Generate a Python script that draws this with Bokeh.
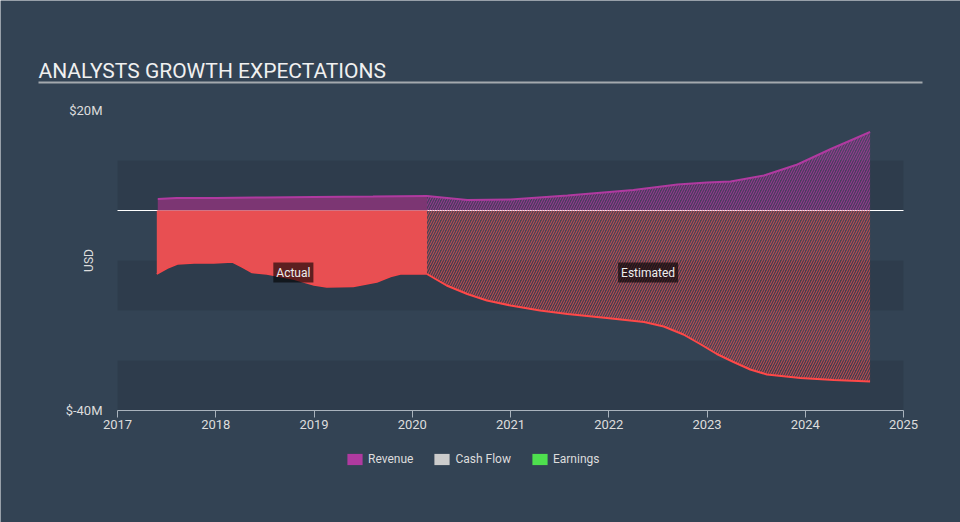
import numpy as np
from bokeh.plotting import figure
from bokeh.models import (Range1d, FixedTicker, BoxAnnotation, Label,
                          Legend, LegendItem, ColumnDataSource)
from bokeh.embed import file_html
from bokeh.resources import INLINE

# ---------------- data (USD millions, decimal years) ----------------
rev_act_x = [2017.41, 2017.6, 2018.0, 2018.5, 2019.0, 2019.6, 2020.15]
rev_act_y = [2.3, 2.5, 2.5, 2.6, 2.7, 2.8, 2.9]

rev_est_x = [2020.15, 2020.56, 2021.0, 2021.58, 2022.25, 2022.7, 2023.0,
             2023.24, 2023.58, 2023.92, 2024.26, 2024.66]
rev_est_y = [2.9, 2.1, 2.2, 3.0, 4.1, 5.2, 5.6, 5.8, 7.0, 9.2, 12.3, 15.7]

earn_act_x = [2017.40, 2017.51, 2017.61, 2017.78, 2017.98, 2018.17, 2018.27,
              2018.37, 2018.52, 2018.79, 2019.0, 2019.13, 2019.40, 2019.64,
              2019.78, 2019.88, 2020.15]
earn_act_y = [-12.7, -11.5, -10.7, -10.5, -10.5, -10.3, -11.3, -12.4, -12.7,
              -13.7, -14.9, -15.3, -15.2, -14.3, -13.2, -12.7, -12.7]

earn_est_x = [2020.15, 2020.35, 2020.56, 2020.76, 2021.0, 2021.30, 2021.58,
              2021.98, 2022.36, 2022.56, 2022.76, 2022.93, 2023.10, 2023.27,
              2023.44, 2023.61, 2023.95, 2024.29, 2024.66]
earn_est_y = [-12.7, -15.0, -16.7, -18.0, -19.0, -20.0, -20.7, -21.5, -22.3,
              -23.2, -24.8, -26.7, -28.7, -30.3, -31.8, -32.8, -33.5, -33.9,
              -34.2]

x_ticks = [2017, 2018, 2019, 2020, 2021, 2022, 2023, 2024, 2025]
y_ticks = [20, -40]
y_tick_labels = ["$20M", "$-40M"]
legend_labels = ["Revenue", "Cash Flow", "Earnings"]
legend_colors = ["#b03aa0", "#cccccc", "#4ee04e"]
label_texts = ["Actual", "Estimated"]
label_x = [2018.79, 2022.40]
label_y = -12.4

title_text = "ANALYSTS GROWTH EXPECTATIONS"
FONT = "Roboto"
BG = "#334354"
TXT = "#dddddd"

# ---------------- layout geometry (pixels) ----------------
W, H = 960, 522
AX_LEFT, AX_RIGHT = 117, 903      # pixel x of first / last year tick
AX_TOP, AX_BOTTOM = 110, 410      # pixel y of top / bottom value tick
x0, x1 = x_ticks[0], x_ticks[-1]
y_hi, y_lo = y_ticks[0], y_ticks[-1]
sx = (AX_RIGHT - AX_LEFT) / (x1 - x0)
sy = (AX_BOTTOM - AX_TOP) / (y_hi - y_lo)

def dx(px):
    return x0 + (px - AX_LEFT) / sx

def dy(py):
    return y_hi - (py - AX_TOP) / sy

p = figure(width=W, height=H, x_range=Range1d(dx(0), dx(W)), y_range=Range1d(dy(H), dy(0)),
           output_backend="svg", toolbar_location=None,
           min_border_left=0, min_border_right=0, min_border_top=0, min_border_bottom=0,
           background_fill_color=BG, border_fill_color=BG, outline_line_color=None)
p.xgrid.visible = False
p.ygrid.visible = False

# background bands
for b, t in [(0, 10), (-20, -10), (-40, -30)]:
    p.add_layout(BoxAnnotation(left=x0, right=x1, bottom=b, top=t, fill_color="#000000",
                               fill_alpha=0.09, line_alpha=0, level="underlay"))

# zero line
p.segment(x0=[x0], x1=[x1], y0=[0], y1=[0], line_color="white", line_width=1)

# actual
p.varea(x=rev_act_x, y1=0, y2=rev_act_y, fill_color="#7c3673", fill_alpha=1)
p.varea(x=earn_act_x, y1=earn_act_y, y2=0, fill_color="#e84f52", fill_alpha=1)
p.line(rev_act_x, rev_act_y, line_color="#b03aa0", line_width=2)
p.line(earn_act_x, earn_act_y, line_color="#f24a4d", line_width=1.5)

# estimated (hatched)
p.varea(x=rev_est_x, y1=0, y2=rev_est_y, fill_color="#b03aa0", fill_alpha=0.22,
        hatch_pattern="/", hatch_color="#b03aa0", hatch_alpha=0.8,
        hatch_scale=5, hatch_weight=1)
p.varea(x=earn_est_x, y1=earn_est_y, y2=0, fill_color="#e84f52", fill_alpha=0.12,
        hatch_pattern="/", hatch_color="#e84f52", hatch_alpha=0.8,
        hatch_scale=5, hatch_weight=1)
p.line(rev_est_x, rev_est_y, line_color="#b03aa0", line_width=2)
p.line(earn_est_x, earn_est_y, line_color="#ff4848", line_width=2)

for xx, txt in zip(label_x, label_texts):
    p.add_layout(Label(x=xx, y=label_y, text=txt, text_align="center",
                       text_baseline="middle", text_font=FONT, text_font_size="12px",
                       text_color="#eeeeee", background_fill_color="black",
                       background_fill_alpha=0.6, padding=3))

# title + underline
p.add_layout(Label(x=dx(38), y=dy(70.5), text=title_text, text_baseline="middle",
                   text_align="left", text_font=FONT, text_font_size="21px",
                   text_color="#f0f0f0"))
p.segment(x0=[dx(38)], x1=[dx(922)], y0=[dy(82)], y1=[dy(82)],
          line_color="#a4a9ae", line_width=2)

# y axis title
p.add_layout(Label(x=dx(88), y=dy(260), text="USD", angle=np.pi / 2,
                   text_align="center", text_baseline="middle",
                   text_font=FONT, text_font_size="12px", text_color=TXT))

# axes
p.yaxis.fixed_location = x0
p.yaxis.ticker = FixedTicker(ticks=y_ticks)
p.yaxis.major_label_overrides = dict(zip(y_ticks, y_tick_labels))
p.yaxis.axis_line_color = None
p.yaxis.major_tick_line_color = None
p.yaxis.minor_tick_line_color = None
p.yaxis.major_tick_out = 0
p.yaxis.major_tick_in = 0
p.yaxis.major_label_standoff = 15
p.yaxis.major_label_text_font = FONT
p.yaxis.major_label_text_font_size = "13px"
p.yaxis.major_label_text_color = TXT

p.xaxis.fixed_location = y_lo
p.xaxis.bounds = (x0, x1)
p.xaxis.ticker = FixedTicker(ticks=x_ticks)
p.xaxis.major_label_overrides = {t: str(t) for t in x_ticks}
p.xaxis.axis_line_color = "#a9b3bd"
p.xaxis.major_tick_line_color = "#a9b3bd"
p.xaxis.minor_tick_line_color = None
p.xaxis.major_tick_out = 7
p.xaxis.major_tick_in = 0
p.xaxis.major_label_standoff = 2
p.xaxis.major_label_text_font = FONT
p.xaxis.major_label_text_font_size = "13px"
p.xaxis.major_label_text_color = TXT

# legend (swatch renderers hold a single undrawable NaN row)
nan = float("nan")
items = []
for lab, col in zip(legend_labels, legend_colors):
    src = ColumnDataSource(dict(left=[nan], right=[nan], top=[nan], bottom=[nan]))
    r = p.quad(left="left", right="right", top="top", bottom="bottom", source=src,
               fill_color=col, fill_alpha=1, line_alpha=0)
    items.append(LegendItem(label=lab, renderers=[r]))
legend = Legend(items=items, orientation="horizontal", location=(345, H - 466),
                glyph_width=19, glyph_height=14, label_standoff=4, spacing=19,
                padding=0, margin=0, border_line_alpha=0, background_fill_alpha=0,
                label_text_color=TXT, label_text_font=FONT, label_text_font_size="12px")
p.add_layout(legend)

open("out.html", "w").write(file_html(p, INLINE))
